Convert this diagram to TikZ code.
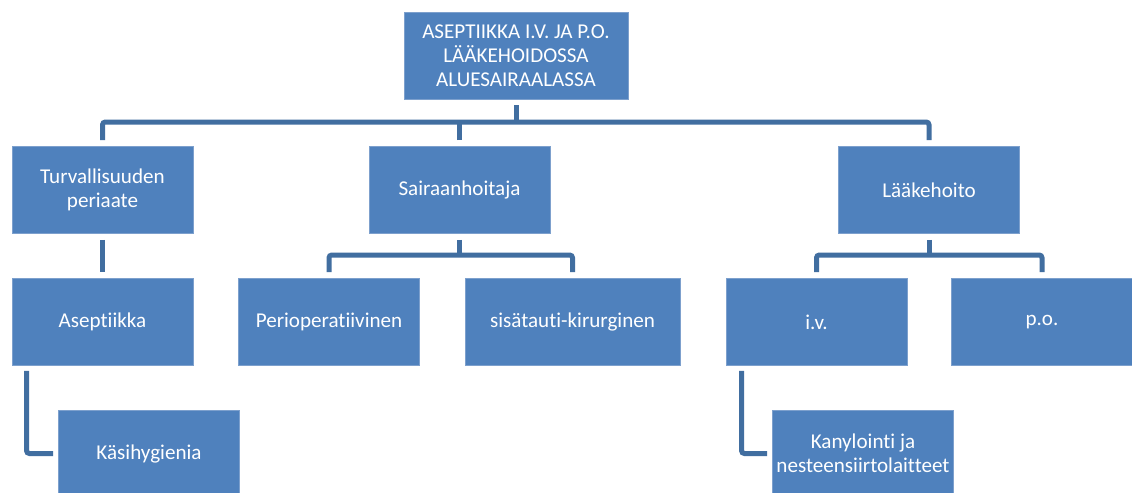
\documentclass[tikz,border=0pt]{standalone}
\usepackage{fontspec}
\setmainfont{Carlito}[Ligatures=NoCommon]
\definecolor{boxblue}{RGB}{79,129,189}
\definecolor{boxedge}{RGB}{125,160,205}
\definecolor{linkblue}{RGB}{65,110,160}
\tikzset{
  box/.style={draw=boxedge,line width=0.6pt,fill=boxblue,text=white,align=center,
    minimum width=4.525cm,minimum height=2.175cm,inner sep=0pt,
    font=\fontsize{15}{17}\selectfont},
  link/.style={draw=linkblue,line width=0.125cm,rounded corners=2pt}
}
\begin{document}
\begin{tikzpicture}[x=0.025cm,y=-0.025cm]

  % white background, sets the size
  \useasboundingbox [fill=white] (0,0) rectangle (1132,493);

  % boxes
  \node[box,minimum width=5.6cm] (root) at (516,55.5) {ASEPTIIKKA I.V. JA P.O.\\L\"A\"AKEHOIDOSSA\\ALUESAIRAALASSA};
  \node[box] (turv) at (102.5,190) {Turvallisuuden\\periaate};
  \node[box] (sair) at (459.5,190) {Sairaanhoitaja};
  \node[box] (laake) at (929,190) {L\"a\"akehoito};
  \node[box] (asep) at (102.5,322) {Aseptiikka};
  \node[box] (peri) at (329,322) {Perioperatiivinen};
  \node[box,minimum width=5.375cm] (sisa) at (572.5,322) {sis\"atauti-kirurginen};
  \node[box] (iv) at (816.5,322) {i.v.};
  \node[box] (po) at (1042,322) {p.o.};
  \node[box] (kasi) at (149,453.5) {K\"asihygienia};
  \node[box] (kany) at (863,453.5) {Kanylointi ja\\nesteensiirtolaitteet};

  % bus lines
  \coordinate (bus1) at (0,122);
  \coordinate (bus2) at (0,255);

  % top level
  \draw [link,shorten <=0.15cm] (root.south) -- (root.south |- bus1);
  \draw [link,shorten <=0.15cm,shorten >=0.15cm] (turv.north) |- (root.south |- bus1) -| (laake.north);
  \draw [link,shorten <=0.15cm] (sair.north) -- (sair.north |- bus1);

  % second level
  \draw [link,shorten <=0.15cm,shorten >=0.15cm] (turv.south) -- (asep.north);
  \foreach \up/\left/\right in {sair/peri/sisa, laake/iv/po} {
    \draw [link,shorten <=0.15cm] (\up.south) -- (\up.south |- bus2);
    \draw [link,shorten <=0.15cm,shorten >=0.15cm] (\left.north) |- (\up.south |- bus2) -| (\right.north);
  }

  % third level, elbows
  \draw [link,shorten <=0.125cm,shorten >=0.125cm] ([xshift=0.375cm]asep.south west) |- (kasi.west);
  \draw [link,shorten <=0.125cm,shorten >=0.125cm] ([xshift=0.4cm]iv.south west) |- (kany.west);

\end{tikzpicture}
\end{document}
